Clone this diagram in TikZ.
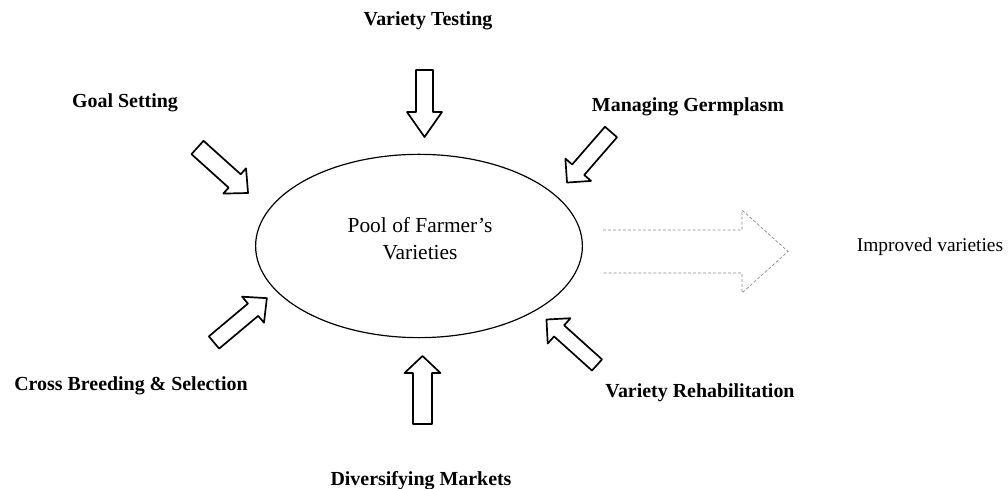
\documentclass[tikz,border=0pt]{standalone}
\usepackage{fontspec}
\setmainfont{Liberation Serif}
\usetikzlibrary{shapes.geometric}
\tikzset{
  lbl/.style={font=\bfseries\fontsize{20}{24}\selectfont, anchor=base, inner sep=0pt},
  pooltext/.style={font=\fontsize{21.5}{26}\selectfont, anchor=base, inner sep=0pt},
  outtext/.style={font=\fontsize{19.5}{24}\selectfont, anchor=base, inner sep=0pt},
  barrowline/.style={draw=black, line width=1.7pt, line join=round, fill=white},
  outarrow/.style={draw=black!45, line width=0.7pt, densely dashed},
  poolshape/.style={ellipse, draw=black, line width=1.2pt, inner sep=0pt, minimum width=328, minimum height=184},
}
% tail x, tail y, rotation, length, shaft half width, head half width, head length
\newcommand\blockarrow[7]{%
  \draw[barrowline, shift={(#1,#2)}, rotate=#3]
    (0,-#5) -- ({#4-#7},-#5) -- ({#4-#7},-#6) -- (#4,0) -- ({#4-#7},#6) -- ({#4-#7},#5) -- (0,#5) -- cycle;}
\begin{document}
\begin{tikzpicture}[x=1bp, y=-1bp]
\useasboundingbox (0,0) rectangle (1008,489);

% central pool
\node[poolshape] (pool) at (419,246) {};
\node[pooltext] (pool1) at (420,233) {Pool of Farmer’s};
\node[pooltext] (pool2) at (420,260) {Varieties};

% block arrows towards the pool
\blockarrow{424.5}{70}{-90}{67}{8.5}{17.5}{25}
\blockarrow{422.5}{424}{90}{68}{9.5}{18}{17}
\blockarrow{197.5}{147.5}{-42}{68}{9}{17}{18}
\blockarrow{611}{132}{-131}{67}{8}{17}{17}
\blockarrow{214}{342.5}{40}{69}{8}{17}{18}
\blockarrow{597}{365}{138}{68}{7.5}{17}{17}

% outgoing arrow
\coordinate (o1) at (603,230);
\coordinate (o2) at (603,273);
\draw[outarrow] (o1) -- (742,230) -- (742,210) -- (788,251.5) -- (742,293) -- (742,273) -- (o2);

% labels
\node[lbl] (vt) at (428,26) {Variety Testing};
\node[lbl] (gs) at (125,108) {Goal Setting};
\node[lbl] (mg) at (688,112) {Managing Germplasm};
\node[lbl] (cb) at (131,390) {Cross Breeding \& Selection};
\node[lbl] (vr) at (700,397) {Variety Rehabilitation};
\node[lbl] (dm) at (421,485) {Diversifying Markets};
\node[outtext] (iv) at (930,252) {Improved varieties};
\end{tikzpicture}
\end{document}
